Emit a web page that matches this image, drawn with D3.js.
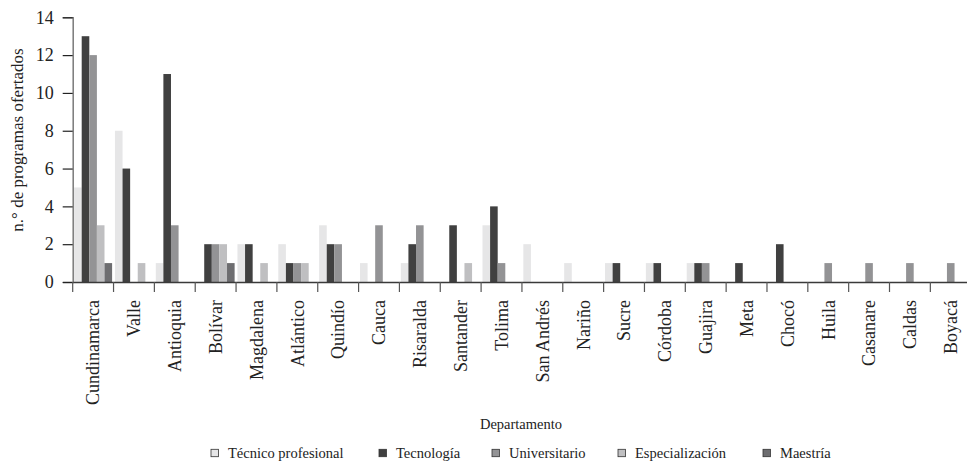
<!DOCTYPE html>
<html>
<head>
<meta charset="utf-8">
<script src="https://cdn.jsdelivr.net/npm/d3@7"></script>
<style>
    body { margin: 0; background: #fff; }
    svg { display: block; font-family: "Liberation Serif", "DejaVu Serif", serif; }
</style>
</head>
<body>
<div id="chart"></div>
<script>
const departamentos = ['Cundinamarca', 'Valle', 'Antioquia', 'Bolívar', 'Magdalena', 'Atlántico', 'Quindío',
    'Cauca', 'Risaralda', 'Santander', 'Tolima', 'San Andrés', 'Nariño', 'Sucre', 'Córdoba', 'Guajira',
    'Meta', 'Chocó', 'Huila', 'Casanare', 'Caldas', 'Boyacá'];
const niveles = ['Técnico profesional', 'Tecnología', 'Universitario', 'Especialización', 'Maestría'];
const tecnicoProfesional = [5, 8, 1, 0, 2, 2, 3, 1, 1, 0, 3, 2, 1, 1, 1, 1, 0, 0, 0, 0, 0, 0];
const tecnologia = [13, 6, 11, 2, 2, 1, 2, 0, 2, 3, 4, 0, 0, 1, 1, 1, 1, 2, 0, 0, 0, 0];
const universitario = [12, 0, 3, 2, 0, 1, 2, 3, 3, 0, 1, 0, 0, 0, 0, 1, 0, 0, 1, 1, 1, 1];
const especializacion = [3, 1, 0, 2, 1, 1, 0, 0, 0, 1, 0, 0, 0, 0, 0, 0, 0, 0, 0, 0, 0, 0];
const maestria = [1, 0, 0, 1, 0, 0, 0, 0, 0, 0, 0, 0, 0, 0, 0, 0, 0, 0, 0, 0, 0, 0];
const yTicks = [0, 2, 4, 6, 8, 10, 12, 14];

const seriesValues = [tecnicoProfesional, tecnologia, universitario, especializacion, maestria];
const colors = ['#e6e6e7', '#404040', '#939395', '#bfbfc1', '#6d6d70'];

const width = 967, height = 462;
const svg = d3.select('#chart').append('svg').attr('width', width).attr('height', height);

const x = d3.scaleBand().domain(departamentos).range([72.7, 72.7 + 22 * 40.84]);
const xInner = d3.scaleBand().domain(niveles).range([1.4, 39.4]);
const y = d3.scaleLinear().domain([0, 14]).range([282, 17.3]);
const color = d3.scaleOrdinal().domain(niveles).range(colors);

const rows = [];
departamentos.forEach((dep, i) => {
    niveles.forEach((niv, j) => {
        rows.push({ dep: dep, niv: niv, value: seriesValues[j][i] });
    });
});

// bars
svg.append('g').selectAll('rect')
    .data(rows.filter(d => d.value > 0))
    .enter().append('rect')
    .attr('x', d => x(d.dep) + xInner(d.niv))
    .attr('y', d => y(d.value))
    .attr('width', xInner.bandwidth())
    .attr('height', d => y(0) - y(d.value))
    .style('fill', d => color(d.niv));

// y axis
const yAxis = svg.append('g')
    .attr('transform', 'translate(72.7,0)')
    .call(d3.axisLeft(y).tickValues(yTicks).tickSize(10).tickPadding(9))
    .attr('font-family', null);
yAxis.select('.domain').attr('stroke', '#7a7a7a').attr('stroke-width', 1.5);
yAxis.selectAll('.tick line').attr('stroke', '#222').attr('stroke-width', 1.2);
yAxis.selectAll('.tick text').style('font-size', '18px').attr('fill', '#222');

// x axis
const xAxis = svg.append('g')
    .attr('transform', 'translate(0,282)')
    .call(d3.axisBottom(x).tickSize(0).tickPadding(0))
    .attr('font-family', null);
xAxis.select('.domain').attr('stroke', '#3a3a3a').attr('stroke-width', 1.5);
xAxis.selectAll('.tick text')
    .style('font-size', '18px')
    .attr('fill', '#222')
    .attr('text-anchor', 'end')
    .attr('dy', '0.35em')
    .attr('transform', 'translate(0,18) rotate(-90)');

// tick marks at band boundaries
svg.append('g').selectAll('line')
    .data(departamentos)
    .enter().append('line')
    .attr('x1', d => x(d)).attr('x2', d => x(d))
    .attr('y1', 282).attr('y2', 292)
    .attr('stroke', '#555').attr('stroke-width', 1.2);

// axis titles
svg.append('text')
    .attr('x', 521).attr('y', 429)
    .attr('text-anchor', 'middle')
    .style('font-size', '14.5px').attr('fill', '#222')
    .text('Departamento');

svg.append('text')
    .attr('transform', 'translate(23,140) rotate(-90)')
    .attr('text-anchor', 'middle')
    .style('font-size', '17px').attr('fill', '#222')
    .text('n.° de programas ofertados');

// legend
const legendX = [211, 379, 492, 618, 763];
const legend = svg.append('g').selectAll('g')
    .data(niveles)
    .enter().append('g')
    .attr('transform', (d, i) => `translate(${legendX[i]},453)`);
legend.append('rect')
    .attr('x', 0).attr('y', -3.7)
    .attr('width', 7.4).attr('height', 7.4)
    .attr('fill', d => color(d))
    .attr('stroke', '#333').attr('stroke-width', 0.8);
legend.append('text')
    .attr('x', 17).attr('y', 0).attr('dy', '0.35em')
    .style('font-size', '14.5px').attr('fill', '#222')
    .text(d => d);
</script>
</body>
</html>
